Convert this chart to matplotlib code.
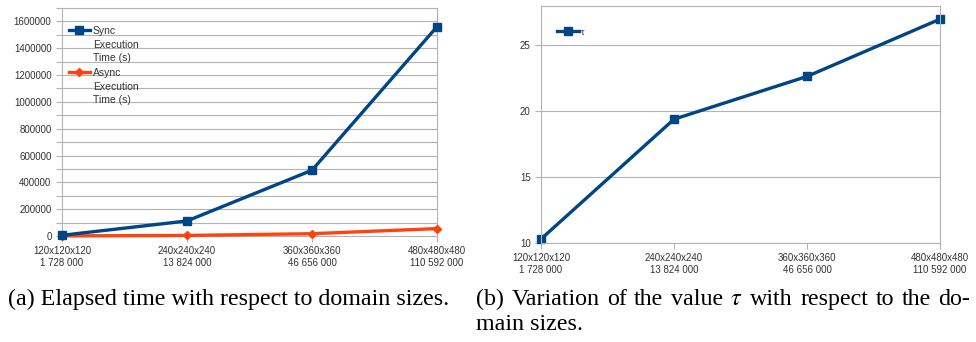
import matplotlib
matplotlib.use("Agg")
import matplotlib.pyplot as plt
from matplotlib.ticker import MultipleLocator, FuncFormatter

plt.rcParams['font.family'] = ['Liberation Sans', 'DejaVu Sans']
plt.rcParams['mathtext.fontset'] = 'stix'

domains = ["120x120x120\n1 728 000", "240x240x240\n13 824 000",
           "360x360x360\n46 656 000", "480x480x480\n110 592 000"]
sync_time = [5000, 112000, 490000, 1560000]
async_time = [500, 4000, 17000, 55000]
tau = [10.3, 19.4, 22.65, 27.0]

BLUE = "#004586"
ORANGE = "#ff420e"
GRID = "#b3b3b3"
TXT = "#333333"

W, H = 976, 342
fig = plt.figure(figsize=(W / 100, H / 100), dpi=100)
ax1 = fig.add_axes([0.0635, 0.310, 0.3842, 0.6667])
ax2 = fig.add_axes([0.5543, 0.2895, 0.4088, 0.693])

x = list(range(len(domains)))


def style(ax):
    for s in ax.spines.values():
        s.set_color(GRID)
        s.set_linewidth(0.8)
    ax.grid(axis="y", which="both", color=GRID, linewidth=0.8)
    ax.set_axisbelow(True)
    ax.set_xlim(0, len(domains) - 1)
    ax.set_xticks(x)
    ax.set_xticklabels(domains, fontsize=7, color=TXT, linespacing=1.25)
    ax.tick_params(axis="both", which="both", colors=GRID, labelcolor=TXT,
                   length=4, width=0.8)
    ax.tick_params(axis="y", labelsize=7)


def top_align(leg):
    # put each legend key level with the first line of its label
    for col in leg._legend_handle_box.get_children():
        for row in col.get_children():
            row.align = "top"


def justified(words, x0, x1, y, **kw):
    # lay words out so the line fills x0..x1 (pixels)
    r = fig.canvas.get_renderer()
    arts = [fig.text(0, 1 - y / H, w, **kw) for w in words]
    widths = [a.get_window_extent(r).width for a in arts]
    gap = (x1 - x0 - sum(widths)) / (len(words) - 1)
    pos = x0
    for a, w in zip(arts, widths):
        a.set_x(pos / W)
        pos += w + gap


# (a) elapsed time
ax1.plot(x, sync_time, color=BLUE, lw=2.4, marker="s", ms=6, clip_on=False,
         zorder=4, label="Sync\nExecution\nTime (s)")
ax1.plot(x, async_time, color=ORANGE, lw=2.4, marker="D", ms=4, clip_on=False,
         zorder=3, label="Async\nExecution\nTime (s)")
ax1.set_ylim(0, 1700000)
ax1.yaxis.set_major_locator(MultipleLocator(200000))
ax1.yaxis.set_minor_locator(MultipleLocator(100000))
ax1.yaxis.set_major_formatter(FuncFormatter(lambda v, p: "%d" % v))
style(ax1)
leg1 = ax1.legend(loc="upper left", bbox_to_anchor=(0.018, 0.92), frameon=False,
                  fontsize=7.5, handlelength=2.0, handletextpad=0.3,
                  labelspacing=0.45, borderaxespad=0, borderpad=0)
top_align(leg1)
for t in leg1.get_texts():
    t.set_color(TXT)
    t.set_linespacing(1.45)

# (b) tau
ax2.plot(x, tau, color=BLUE, lw=2.4, marker="s", ms=6, clip_on=False, label="τ")
ax2.set_ylim(10, 28)
ax2.yaxis.set_major_locator(MultipleLocator(5))
style(ax2)
leg2 = ax2.legend(loc="center left", bbox_to_anchor=(0.04, 0.89), frameon=False,
                  fontsize=6.5, handlelength=2.4, handletextpad=0.3,
                  borderaxespad=0, borderpad=0)
for t in leg2.get_texts():
    t.set_color(TXT)

# captions, baselines in pixels from the top
cap = dict(fontsize=17.3, family="Liberation Serif", color="black", va="baseline")
fig.text(0.008, 1 - 305 / H, "(a) Elapsed time with respect to domain sizes.", **cap)
justified(["(b)", "Variation", "of", "the", "value", r"$\tau$", "with", "respect",
           "to", "the", "do-"], 476, 970, 305, **cap)
fig.text(476 / W, 1 - 330 / H, "main sizes.", **cap)

fig.savefig("out.png", dpi=100)
